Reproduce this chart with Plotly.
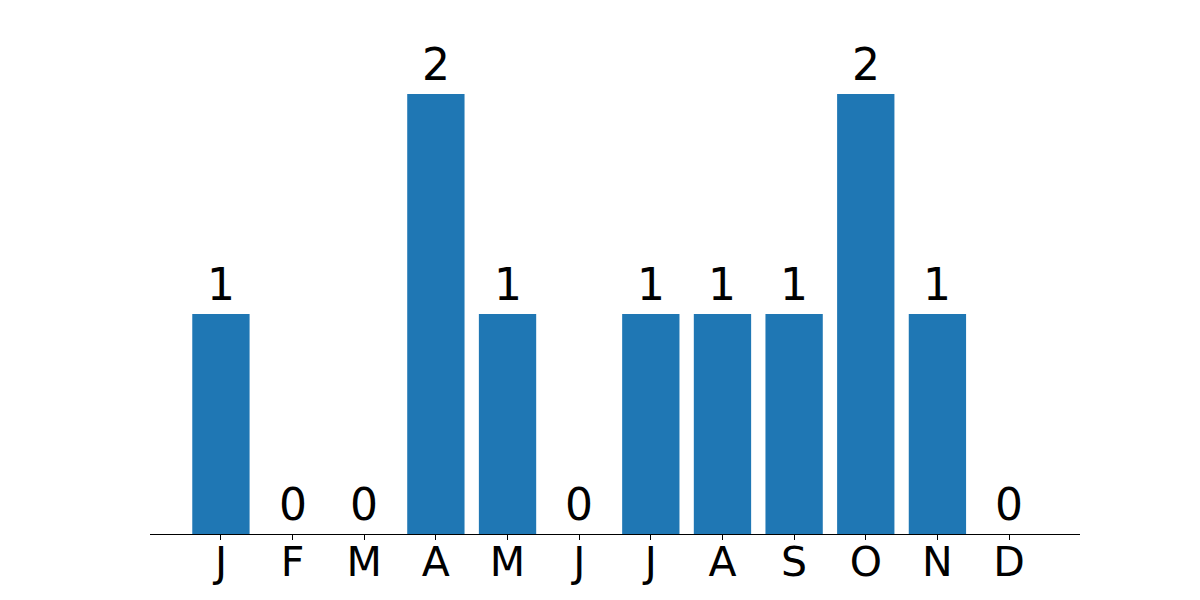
import plotly.graph_objects as go

months = ["J", "F", "M", "A", "M", "J", "J", "A", "S", "O", "N", "D"]
counts = [1, 0, 0, 2, 1, 0, 1, 1, 1, 2, 1, 0]

xs = list(range(len(months)))

fig = go.Figure()
fig.add_trace(go.Bar(x=xs, y=counts, width=0.8, marker=dict(color="#1f77b4", line=dict(width=0)),
                     hoverinfo="skip"))

for x, v in zip(xs, counts):
    fig.add_annotation(x=x, y=v, text=str(v), showarrow=False, yanchor="bottom",
                       yshift=2, font=dict(size=44, color="black", family="DejaVu Sans"))

fig.update_layout(
    width=1200, height=600,
    margin=dict(l=150, r=120, t=72, b=66, autoexpand=False),
    plot_bgcolor="white", paper_bgcolor="white",
    showlegend=False,
    font=dict(family="DejaVu Sans", color="black"),
    xaxis=dict(range=[-0.99, 11.99], tickmode="array", tickvals=xs, ticktext=months,
               showline=True, linecolor="black", linewidth=1, ticks="outside",
               ticklen=5, tickwidth=1, tickcolor="black", showgrid=False, zeroline=False,
               automargin=False, ticklabelstandoff=-13,
               tickfont=dict(size=41, family="DejaVu Sans", color="black")),
    yaxis=dict(range=[0, 2.1], visible=False, showgrid=False, zeroline=False, automargin=False),
)

fig.write_html("out.html", config={"displayModeBar": False},
               post_script="document.body.style.margin='0';document.body.style.overflow='hidden';")
